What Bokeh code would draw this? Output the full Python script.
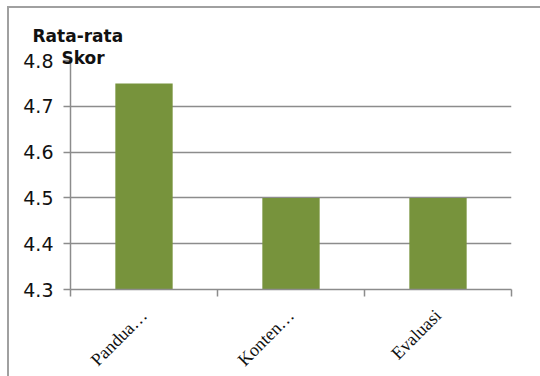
import math
from bokeh.plotting import figure
from bokeh.models import FixedTicker, Range1d, Title, ColumnDataSource
from bokeh.embed import file_html
from bokeh.resources import INLINE

categories = ["Pandua…", "Konten…", "Evaluasi"]
scores = [4.75, 4.5, 4.5]
y_ticks = [4.3, 4.4, 4.5, 4.6, 4.7, 4.8]
axis_title = ["Rata-rata", "Skor"]

GRAY = "#8c8c8c"
GREEN = "#77933C"

xs = [i + 0.5 for i in range(len(categories))]
src = ColumnDataSource(dict(x=xs, top=scores, cat=categories))

p = figure(frame_width=441, frame_height=229, output_backend="svg", toolbar_location=None,
           x_range=Range1d(0, len(categories)), y_range=Range1d(y_ticks[0], y_ticks[-1]),
           min_border_left=61, min_border_right=29, min_border_top=52, min_border_bottom=10)
p.outline_line_color = None
p.background_fill_color = "white"
p.border_fill_color = "white"
p.styles = {"border-top": "2px solid #a0a0a0", "border-left": "2px solid #a0a0a0",
            "border-right": "0px none white", "border-bottom": "0px none white",
            "box-shadow": "none", "outline": "none",
            "margin-top": "6px", "margin-left": "7px"}

p.vbar(x="x", top="top", bottom=y_ticks[0], width=0.39, source=src,
       fill_color=GREEN, line_color=None)

# y axis
p.yaxis.ticker = FixedTicker(ticks=y_ticks)
p.yaxis.axis_line_color = GRAY
p.yaxis.axis_line_width = 1.5
p.yaxis.major_tick_line_color = GRAY
p.yaxis.major_tick_line_width = 1.5
p.yaxis.major_tick_out = 7
p.yaxis.major_tick_in = 0
p.yaxis.minor_tick_line_color = None
p.yaxis.major_label_text_font = "DejaVu Sans"
p.yaxis.major_label_text_font_size = "19px"
p.yaxis.major_label_text_color = "#111111"
p.yaxis.major_label_standoff = 10

# x axis
p.xaxis.ticker = FixedTicker(ticks=xs, minor_ticks=list(range(len(categories) + 1)))
p.xaxis.major_label_overrides = {x: c for x, c in zip(xs, categories)}
p.xaxis.major_tick_line_color = None
p.xaxis.minor_tick_line_color = GRAY
p.xaxis.minor_tick_line_width = 1.5
p.xaxis.minor_tick_out = 7
p.xaxis.minor_tick_in = 0
p.xaxis.axis_line_color = GRAY
p.xaxis.axis_line_width = 1.5
p.xaxis.major_label_orientation = math.pi / 4
p.xaxis.major_label_text_font = "Liberation Serif"
p.xaxis.major_label_text_font_size = "18px"
p.xaxis.major_label_text_color = "#111111"
p.xaxis.major_label_standoff = 16

p.xgrid.grid_line_color = None
p.ygrid.ticker = FixedTicker(ticks=y_ticks)
p.ygrid.grid_line_color = GRAY
p.ygrid.grid_line_width = 1.5

# axis title, split over two lines as in the reference
p.add_layout(Title(text=axis_title[1], align="left", offset=-9, standoff=-14,
                   text_font="DejaVu Sans", text_font_style="bold", text_font_size="17px",
                   text_color="#111111"), "above")
p.add_layout(Title(text=axis_title[0], align="left", offset=-38, standoff=13,
                   text_font="DejaVu Sans", text_font_style="bold", text_font_size="17px",
                   text_color="#111111"), "above")

open("out.html", "w").write(file_html(p, INLINE))
